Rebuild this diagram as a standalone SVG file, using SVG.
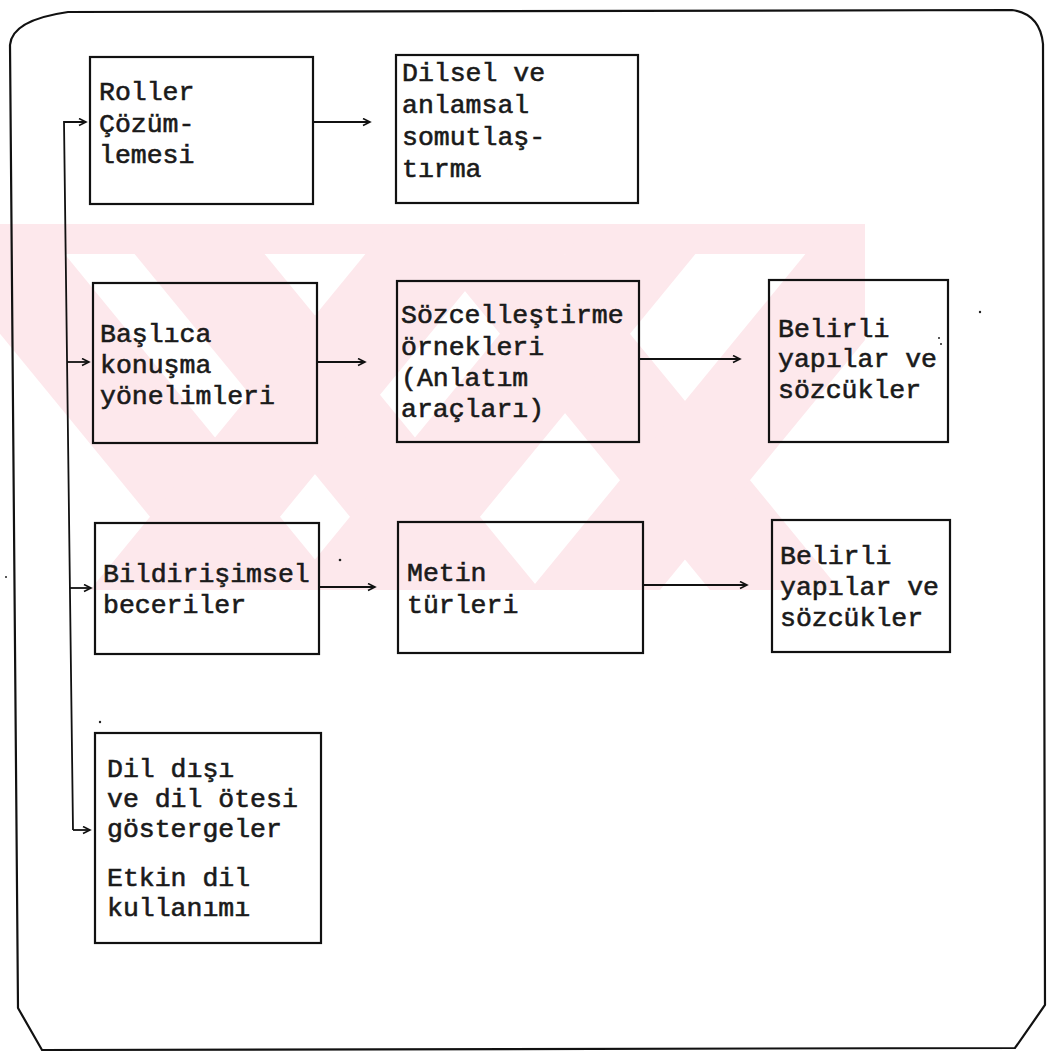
<svg xmlns="http://www.w3.org/2000/svg" width="1053" height="1058" viewBox="0 0 1053 1058">
<defs>
<style>
.box{fill:none;stroke:#111;stroke-width:2.2}
.ln{fill:none;stroke:#111;stroke-width:1.8}
.frame{fill:none;stroke:#111;stroke-width:2.2}
text{font-family:"Liberation Mono","Courier New",monospace;font-size:26.5px;fill:#1a1a1a;stroke:#1a1a1a;stroke-width:0.6}
.wm{fill:#fde8ec}
.dot{fill:#222}
</style>
<marker id="ah" markerWidth="10" markerHeight="10" refX="8" refY="4" orient="auto" markerUnits="userSpaceOnUse">
<path d="M1,0.5 L8,4 L1,7.5" fill="none" stroke="#111" stroke-width="1.6"/>
</marker>
<clipPath id="wmclip"><rect x="0" y="224" width="865" height="366"/></clipPath>
</defs>
<rect width="1053" height="1058" fill="#fff"/>
<g id="watermark" clip-path="url(#wmclip)">
<rect class="wm" x="0" y="224" width="865" height="30"/>
<polygon class="wm" points="-90,224 40,224 340,590 210,590"/>
<polygon class="wm" points="110,224 240,224 540,590 410,590"/>
<polygon class="wm" points="410,224 540,224 840,590 710,590"/>
<polygon class="wm" points="390,224 520,224 220,590 90,590"/>
<polygon class="wm" points="590,224 720,224 420,590 290,590"/>
<polygon class="wm" points="830,224 960,224 660,590 530,590"/>
</g>
<g id="frame">
<path class="frame" d="M68,12 L1012,10 Q1040,14 1043,44 L1045,1005 L1015,1048 L42,1050 L18,1008 L10,45 Q12,20 68,12 Z"/>
</g>
<g id="connectors">
<path class="ln" d="M73,830 L64,122 L86,122" marker-end="url(#ah)"/>
<path class="ln" d="M67,362 L89,362" marker-end="url(#ah)"/>
<path class="ln" d="M70,588 L91,588" marker-end="url(#ah)"/>
<path class="ln" d="M73,830 L90,830" marker-end="url(#ah)"/>
<path class="ln" d="M314,122 L370,122" marker-end="url(#ah)"/>
<path class="ln" d="M317,362 L365,362" marker-end="url(#ah)"/>
<path class="ln" d="M640,359 L740,359" marker-end="url(#ah)"/>
<path class="ln" d="M319,587 L375,587" marker-end="url(#ah)"/>
<path class="ln" d="M644,585 L747,585" marker-end="url(#ah)"/>
</g>
<g id="n1"><rect class="box" x="90" y="57" width="223" height="147"/>
<text x="99" y="100">Roller</text><text x="99" y="132">Çözüm-</text><text x="99" y="163">lemesi</text></g>
<g id="n2"><rect class="box" x="396" y="55" width="242" height="148"/>
<text x="402" y="81">Dilsel ve</text><text x="402" y="113">anlamsal</text><text x="402" y="145">somutlaş-</text><text x="402" y="177">tırma</text></g>
<g id="n3"><rect class="box" x="93" y="283" width="224" height="160"/>
<text x="100" y="342">Başlıca</text><text x="100" y="373">konuşma</text><text x="100" y="404">yönelimleri</text></g>
<g id="n4"><rect class="box" x="397" y="281" width="242" height="161"/>
<text x="401" y="323">Sözcelleştirme</text><text x="401" y="355">örnekleri</text><text x="401" y="386">(Anlatım</text><text x="401" y="417">araçları)</text></g>
<g id="n5"><rect class="box" x="769" y="280" width="179" height="162"/>
<text x="778" y="337">Belirli</text><text x="778" y="367">yapılar ve</text><text x="778" y="398">sözcükler</text></g>
<g id="n6"><rect class="box" x="95" y="523" width="224" height="131"/>
<text x="103" y="582">Bildirişimsel</text><text x="103" y="613">beceriler</text></g>
<g id="n7"><rect class="box" x="398" y="522" width="245" height="131"/>
<text x="407" y="581">Metin</text><text x="407" y="613">türleri</text></g>
<g id="n8"><rect class="box" x="772" y="520" width="178" height="132"/>
<text x="780" y="564">Belirli</text><text x="780" y="595">yapılar ve</text><text x="780" y="626">sözcükler</text></g>
<g id="n9"><rect class="box" x="95" y="733" width="226" height="210"/>
<text x="107" y="777">Dil dışı</text><text x="107" y="807">ve dil ötesi</text><text x="107" y="837">göstergeler</text><text x="107" y="886">Etkin dil</text><text x="107" y="916">kullanımı</text></g>
<g id="specks">
<circle class="dot" cx="980" cy="312" r="1.2"/>
<circle class="dot" cx="939" cy="338" r="1"/>
<circle class="dot" cx="941" cy="344" r="1"/>
<circle class="dot" cx="340" cy="560" r="1.3"/>
<circle class="dot" cx="100" cy="722" r="1.2"/>
<circle class="dot" cx="6" cy="577" r="1"/>
</g>
</svg>
